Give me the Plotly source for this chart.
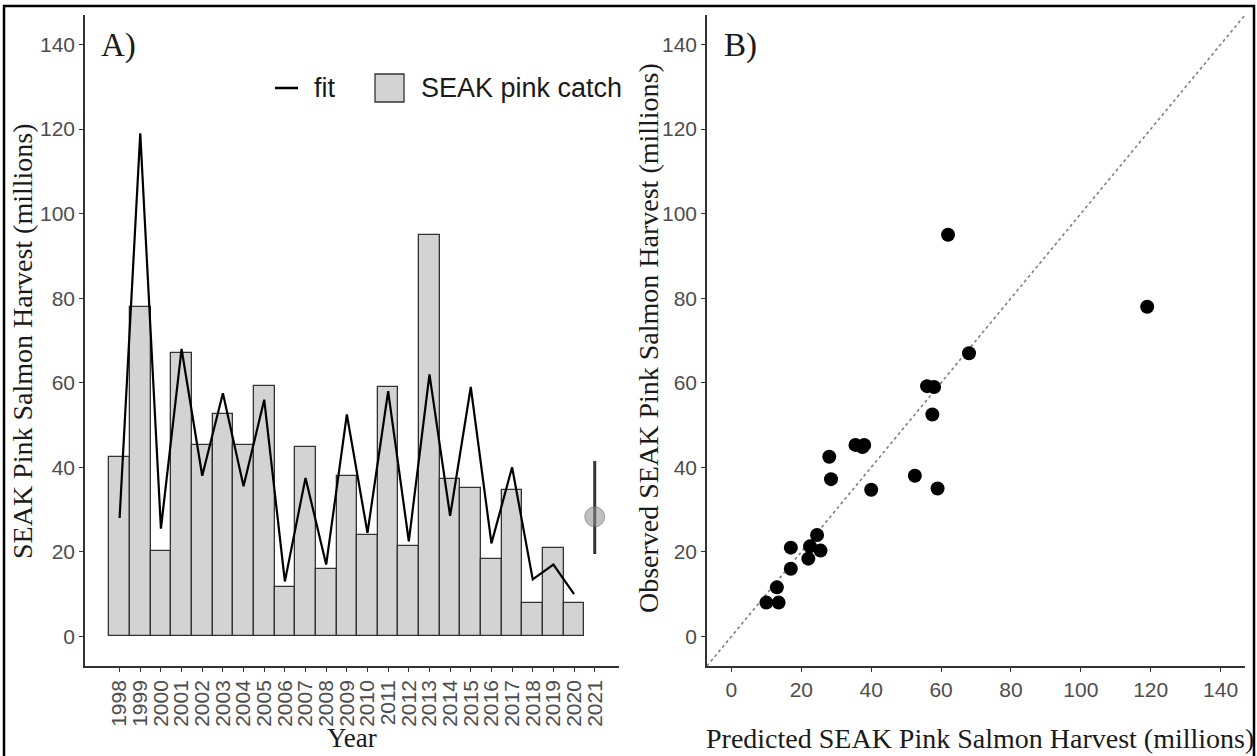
import plotly.graph_objects as go

# ---------------- data ----------------
years = list(range(1998, 2021))
catch = [42.5, 78, 20.3, 67, 45.3, 52.5, 45.3, 59.2, 11.6, 44.8, 16, 38, 24,
         59, 21.3, 95, 37.2, 35, 18.4, 34.7, 8, 21, 8]
fit = [28, 119, 25.5, 68, 38, 57.5, 35.5, 56, 13, 37.5, 17, 52.5, 24.5,
       58, 22.5, 62, 28.5, 59, 22, 40, 13.5, 17, 10]
forecast_year = [2021]
forecast = [28.3]
forecast_hi = [41.5]
forecast_lo = [19.5]
year_ticks = list(range(1998, 2022))
y_ticks = [0, 20, 40, 60, 80, 100, 120, 140]

W, H = 1257, 756


def px(x):
    return x / W


def py(y):
    return 1 - y / H


SANS = "Liberation Sans, Arial, sans-serif"
SERIF = "Liberation Serif, Times New Roman, serif"
TICKCOL = "#4d4d4d"
AXCOL = "#333333"

fig = go.Figure()

# Panel A
fig.add_trace(go.Bar(x=years, y=catch, width=1.0, name="SEAK pink catch",
                     marker=dict(color="#d3d3d3", line=dict(color=AXCOL, width=1.3)),
                     xaxis="x", yaxis="y", showlegend=False))
fig.add_trace(go.Scatter(x=years, y=fit, mode="lines", name="fit",
                         line=dict(color="black", width=2.2),
                         xaxis="x", yaxis="y", showlegend=False))
fig.add_trace(go.Scatter(
    x=forecast_year, y=forecast, mode="markers", showlegend=False,
    marker=dict(size=20, color="rgba(140,140,140,0.55)",
                line=dict(color="rgba(90,90,90,0.5)", width=1)),
    error_y=dict(type="data", symmetric=False,
                 array=[forecast_hi[0] - forecast[0]],
                 arrayminus=[forecast[0] - forecast_lo[0]],
                 color=AXCOL, thickness=3, width=0),
    xaxis="x", yaxis="y"))

# Panel B
lim = [-7, 147]
fig.add_trace(go.Scatter(x=lim, y=lim, mode="lines", showlegend=False,
                         line=dict(color="#808080", width=1.6, dash="dot"),
                         xaxis="x2", yaxis="y2"))
fig.add_trace(go.Scatter(x=fit, y=catch, mode="markers", showlegend=False,
                         marker=dict(size=14, color="black"),
                         xaxis="x2", yaxis="y2"))

axis_common = dict(showline=True, linecolor=AXCOL, linewidth=1.5, ticks="outside",
                   ticklen=4, tickcolor=AXCOL, showgrid=False, zeroline=False,
                   tickfont=dict(family=SANS, size=21, color=TICKCOL))

fig.update_layout(
    width=W, height=H,
    margin=dict(l=0, r=0, t=0, b=0),
    paper_bgcolor="white", plot_bgcolor="white",
    bargap=0,
    xaxis=dict(domain=[px(85), px(619)], range=[1996.325, 2022.175],
               tickmode="array", tickvals=year_ticks,
               ticktext=[str(y) for y in year_ticks], tickangle=-90,
               anchor="y", **axis_common),
    yaxis=dict(domain=[py(666), py(15)], range=lim, tickmode="array",
               tickvals=y_ticks, anchor="x", **axis_common),
    xaxis2=dict(domain=[px(707), px(1245)], range=lim, tickmode="array",
                tickvals=y_ticks, anchor="y2", **axis_common),
    yaxis2=dict(domain=[py(666), py(15)], range=lim, tickmode="array",
                tickvals=y_ticks, anchor="x2", **axis_common),
)

ann = [
    dict(text="SEAK Pink Salmon Harvest (millions)", x=px(22), y=py(341), textangle=-90,
         font=dict(family=SERIF, size=28, color="#1a1a1a")),
    dict(text="Year", x=px(352), y=py(738), font=dict(family=SERIF, size=27, color="#1a1a1a")),
    dict(text="Observed SEAK Pink Salmon Harvest (millions)", x=px(648), y=py(338),
         textangle=-90, font=dict(family=SERIF, size=28, color="#1a1a1a")),
    dict(text="Predicted SEAK Pink Salmon Harvest (millions)", x=px(980), y=py(738),
         font=dict(family=SERIF, size=28, color="#1a1a1a")),
    dict(text="A)", x=px(99), y=py(46), xanchor="left",
         font=dict(family=SERIF, size=33, color="#1a1a1a")),
    dict(text="B)", x=px(722), y=py(46), xanchor="left",
         font=dict(family=SERIF, size=33, color="#1a1a1a")),
    dict(text="fit", x=px(312), y=py(88), xanchor="left",
         font=dict(family=SANS, size=27, color="#1a1a1a")),
    dict(text="SEAK pink catch", x=px(419), y=py(88), xanchor="left",
         font=dict(family=SANS, size=27, color="#1a1a1a")),
]
for a in ann:
    a.update(xref="paper", yref="paper", showarrow=False)
    a.setdefault("xanchor", "center")
    a.setdefault("yanchor", "middle")
fig.update_layout(annotations=ann)

fig.update_layout(shapes=[
    dict(type="line", xref="paper", yref="paper", x0=px(275), x1=px(298),
         y0=py(88), y1=py(88), line=dict(color="black", width=2.5)),
    dict(type="rect", xref="paper", yref="paper", x0=px(375), x1=px(404),
         y0=py(102), y1=py(74), fillcolor="#d3d3d3", line=dict(color=AXCOL, width=1.3)),
    dict(type="rect", xref="paper", yref="paper", x0=px(4), x1=px(1254),
         y0=py(770), y1=py(6), line=dict(color="black", width=2.5)),
])

fig.write_html("out.html", config={"displayModeBar": False},
               post_script="document.body.style.margin='0';document.body.style.padding='0';")
